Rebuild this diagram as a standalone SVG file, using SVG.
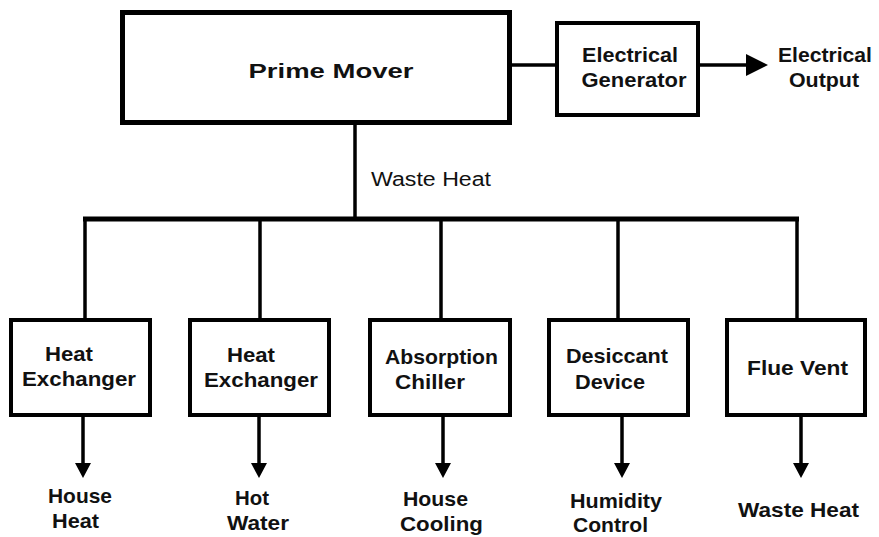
<svg xmlns="http://www.w3.org/2000/svg" width="879" height="537" viewBox="0 0 879 537">
<style>
.box{fill:#fff;stroke:#000;stroke-width:4}
.t{font-family:"Liberation Sans",Arial,sans-serif;font-weight:bold;font-size:21px;fill:#111;text-anchor:middle}
.ln{stroke:#000;stroke-width:3.5;fill:none}
.ah{fill:#000}
</style>
<rect width="879" height="537" fill="#fff"/>
<g id="connectors">
<line class="ln" x1="512" y1="65" x2="557" y2="65"/>
<line class="ln" x1="698" y1="65" x2="750" y2="65"/>
<polygon class="ah" points="746,54 768,65 746,76"/>
<line class="ln" x1="355" y1="123" x2="355" y2="219"/>
<line stroke="#000" stroke-width="5" x1="83" y1="219" x2="799" y2="219"/>
<line class="ln" x1="85" y1="219" x2="85" y2="320"/>
<line class="ln" x1="260" y1="219" x2="260" y2="320"/>
<line class="ln" x1="441" y1="219" x2="441" y2="320"/>
<line class="ln" x1="618" y1="219" x2="618" y2="320"/>
<line class="ln" x1="797" y1="219" x2="797" y2="320"/>
<line class="ln" x1="83" y1="415" x2="83" y2="466"/>
<polygon class="ah" points="75,463 91,463 83,478"/>
<line class="ln" x1="259" y1="415" x2="259" y2="466"/>
<polygon class="ah" points="251,463 267,463 259,478"/>
<line class="ln" x1="443" y1="415" x2="443" y2="466"/>
<polygon class="ah" points="435,463 451,463 443,478"/>
<line class="ln" x1="622" y1="415" x2="622" y2="466"/>
<polygon class="ah" points="614,463 630,463 622,478"/>
<line class="ln" x1="801" y1="415" x2="801" y2="466"/>
<polygon class="ah" points="793,463 809,463 801,478"/>
<text x="371" y="186" font-family="Liberation Sans, Arial, sans-serif" font-size="20" fill="#111" textLength="120" lengthAdjust="spacingAndGlyphs">Waste Heat</text>
</g>
<g id="prime-mover">
<rect x="122.5" y="12.5" width="387" height="110" fill="#fff" stroke="#000" stroke-width="5"/>
<text class="t" x="331" y="78" font-size="25" textLength="165" lengthAdjust="spacingAndGlyphs">Prime Mover</text>
</g>
<g id="generator">
<rect class="box" x="557" y="23" width="141" height="92"/>
<text class="t" x="630" y="62" textLength="96" lengthAdjust="spacingAndGlyphs">Electrical</text>
<text class="t" x="634" y="87" textLength="105" lengthAdjust="spacingAndGlyphs">Generator</text>
</g>
<g id="electrical-output">
<text class="t" x="825" y="62" textLength="94" lengthAdjust="spacingAndGlyphs">Electrical</text>
<text class="t" x="824" y="87" textLength="70" lengthAdjust="spacingAndGlyphs">Output</text>
</g>
<g id="hx1">
<rect class="box" x="11" y="320" width="139" height="95"/>
<text class="t" x="69" y="361" textLength="48" lengthAdjust="spacingAndGlyphs">Heat</text>
<text class="t" x="79" y="386" textLength="114" lengthAdjust="spacingAndGlyphs">Exchanger</text>
</g>
<g id="hx2">
<rect class="box" x="190" y="320" width="139" height="95"/>
<text class="t" x="251" y="362" textLength="48" lengthAdjust="spacingAndGlyphs">Heat</text>
<text class="t" x="261" y="387" textLength="114" lengthAdjust="spacingAndGlyphs">Exchanger</text>
</g>
<g id="chiller">
<rect class="box" x="370" y="320" width="140" height="95"/>
<text class="t" x="441.5" y="364" textLength="113" lengthAdjust="spacingAndGlyphs">Absorption</text>
<text class="t" x="430" y="389" textLength="70" lengthAdjust="spacingAndGlyphs">Chiller</text>
</g>
<g id="desiccant">
<rect class="box" x="549" y="320" width="139" height="95"/>
<text class="t" x="617" y="363" textLength="102" lengthAdjust="spacingAndGlyphs">Desiccant</text>
<text class="t" x="610" y="389" textLength="70" lengthAdjust="spacingAndGlyphs">Device</text>
</g>
<g id="flue-vent">
<rect class="box" x="727" y="320" width="138" height="95"/>
<text class="t" x="797.5" y="375" textLength="101" lengthAdjust="spacingAndGlyphs">Flue Vent</text>
</g>
<g id="house-heat">
<text class="t" x="80" y="503" textLength="64" lengthAdjust="spacingAndGlyphs">House</text>
<text class="t" x="75.5" y="528" textLength="47" lengthAdjust="spacingAndGlyphs">Heat</text>
</g>
<g id="hot-water">
<text class="t" x="252" y="505" textLength="34" lengthAdjust="spacingAndGlyphs">Hot</text>
<text class="t" x="258" y="530" textLength="62" lengthAdjust="spacingAndGlyphs">Water</text>
</g>
<g id="house-cooling">
<text class="t" x="435.5" y="506" textLength="65" lengthAdjust="spacingAndGlyphs">House</text>
<text class="t" x="441.5" y="531" textLength="83" lengthAdjust="spacingAndGlyphs">Cooling</text>
</g>
<g id="humidity-control">
<text class="t" x="616" y="508" textLength="92" lengthAdjust="spacingAndGlyphs">Humidity</text>
<text class="t" x="610.5" y="532" textLength="75" lengthAdjust="spacingAndGlyphs">Control</text>
</g>
<g id="waste-heat-out">
<text class="t" x="798.5" y="517" textLength="121" lengthAdjust="spacingAndGlyphs">Waste Heat</text>
</g>
</svg>
